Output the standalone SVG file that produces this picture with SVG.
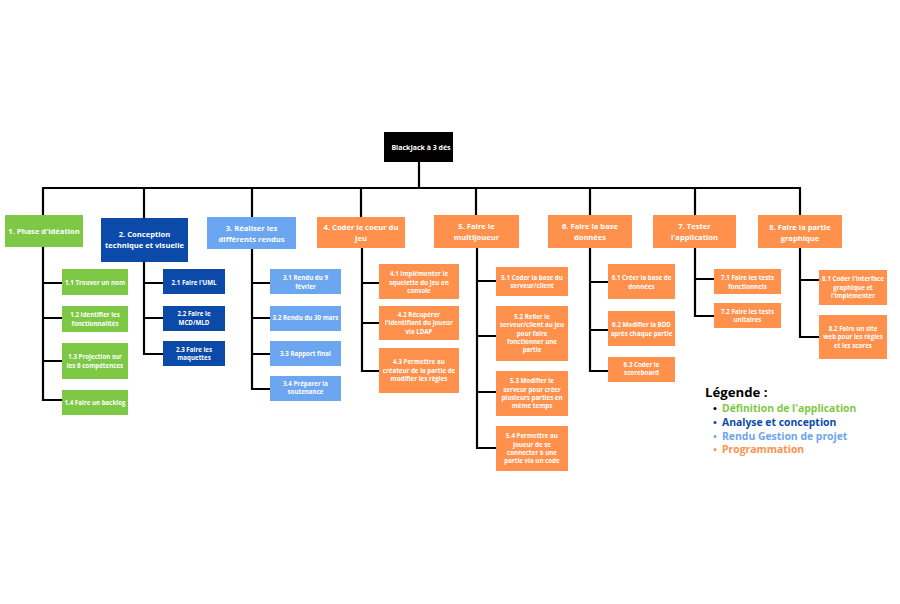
<svg xmlns="http://www.w3.org/2000/svg" width="900" height="604" viewBox="0 0 900 604">
<style>
.bg{fill:#ffffff}
.ln{stroke:#000;stroke-width:2.2;fill:none;stroke-linecap:square}
.g{fill:#7DC845}.db{fill:#0B4AA8}.lb{fill:#6CA6F0}.o{fill:#FF914D}.k{fill:#000}
text{font-family:"Open Sans","Liberation Sans",sans-serif;font-weight:bold;fill:#fff;text-anchor:middle}
.t0{font-size:7px}
.t1{font-size:7.6px}
.t2{font-size:6.2px}
.lg{text-anchor:start;font-size:10.4px}
</style>
<rect class="bg" width="900" height="604"/>
<g id="connectors">
<path class="ln" d="M419 162V188M43 188H800M43 188V215M144 188V218M252 188V217M361 188V217M476 188V215M590 188V215M695 188V215M800 188V215"/>
<path class="ln" d="M43 247V400M43 283H62M43 318H62M43 361H62M43 400H62"/>
<path class="ln" d="M144 262V354M144 283H163M144 318H163M144 354H163"/>
<path class="ln" d="M252 249V389M252 283H270M252 318H270M252 354H270M252 389H270"/>
<path class="ln" d="M362 248V371M362 283H379M362 323H379M362 371H379"/>
<path class="ln" d="M477 248V448M477 281H496M477 336H496M477 392H496M477 448H496"/>
<path class="ln" d="M590 248V371M590 282H608M590 330H608M590 371H608"/>
<path class="ln" d="M695 248V316M695 279H714M695 316H714"/>
<path class="ln" d="M800 248V337M800 280H819M800 337H819"/>
</g>
<g id="root"><rect class="k" x="384" y="132" width="69" height="30"/><text class="t0" x="421" y="149.5">BlackJack à 3 dés</text></g>
<g id="n1"><rect class="g" x="5" y="215" width="78" height="32"/><text class="t1" x="44" y="233.5">1. Phase d'idéation</text></g>
<g id="n2"><rect class="db" x="101" y="218" width="87" height="44"/><text class="t1" x="144.5" y="237">2. Conception</text><text class="t1" x="144.5" y="248">technique et visuelle</text></g>
<g id="n3"><rect class="lb" x="207" y="217" width="89" height="32"/><text class="t1" x="251.5" y="230.5">3. Réaliser les</text><text class="t1" x="251.5" y="241.5">différents rendus</text></g>
<g id="n4"><rect class="o" x="317" y="217" width="88" height="31"/><text class="t1" x="361" y="229.5">4. Coder le coeur du</text><text class="t1" x="361" y="240.5">jeu</text></g>
<g id="n5"><rect class="o" x="434" y="215" width="85" height="33"/><text class="t1" x="476.5" y="228.5">5. Faire le</text><text class="t1" x="476.5" y="239.5">multijoueur</text></g>
<g id="n6"><rect class="o" x="548" y="215" width="84" height="33"/><text class="t1" x="590" y="228.5">6. Faire la base</text><text class="t1" x="590" y="239.5">données</text></g>
<g id="n7"><rect class="o" x="653" y="215" width="83" height="33"/><text class="t1" x="694.5" y="228.5">7. Tester</text><text class="t1" x="694.5" y="239.5">l'application</text></g>
<g id="n8"><rect class="o" x="758" y="215" width="84" height="33"/><text class="t1" x="800" y="229.5">8. Faire la partie</text><text class="t1" x="800" y="240.5">graphique</text></g>
<g id="n1_1"><rect class="g" x="62" y="269" width="66" height="26"/><text class="t2" x="95" y="285">1.1 Trouver un nom</text></g>
<g id="n1_2"><rect class="g" x="62" y="306" width="66" height="26"/><text class="t2" x="95" y="317">1.2 Identifier les</text><text class="t2" x="95" y="326">fonctionnalités</text></g>
<g id="n1_3"><rect class="g" x="62" y="343" width="66" height="36"/><text class="t2" x="95" y="359">1.3 Projection sur</text><text class="t2" x="95" y="368">les 6 compétences</text></g>
<g id="n1_4"><rect class="g" x="62" y="390" width="66" height="25"/><text class="t2" x="95" y="405">1.4 Faire un backlog</text></g>
<g id="n2_1"><rect class="db" x="163" y="269" width="62" height="25"/><text class="t2" x="194" y="285">2.1 Faire l'UML</text></g>
<g id="n2_2"><rect class="db" x="163" y="306" width="62" height="25"/><text class="t2" x="194" y="316">2.2 Faire le</text><text class="t2" x="194" y="325">MCD/MLD</text></g>
<g id="n2_3"><rect class="db" x="163" y="341" width="62" height="25"/><text class="t2" x="194" y="352">2.3 Faire les</text><text class="t2" x="194" y="360">maquettes</text></g>
<g id="n3_1"><rect class="lb" x="270" y="269" width="71" height="25"/><text class="t2" x="305.5" y="280">3.1 Rendu du 9</text><text class="t2" x="305.5" y="289">février</text></g>
<g id="n3_2"><rect class="lb" x="270" y="306" width="71" height="25"/><text class="t2" x="305.5" y="320">3.2 Rendu du 30 mars</text></g>
<g id="n3_3"><rect class="lb" x="270" y="341" width="71" height="25"/><text class="t2" x="305.5" y="356">3.3 Rapport final</text></g>
<g id="n3_4"><rect class="lb" x="270" y="376" width="71" height="25"/><text class="t2" x="305.5" y="386">3.4 Préparer la</text><text class="t2" x="305.5" y="394">soutenance</text></g>
<g id="n4_1"><rect class="o" x="379" y="264" width="80" height="35"/><text class="t2" x="419" y="276">4.1 Implémenter le</text><text class="t2" x="419" y="284.5">squelette du jeu en</text><text class="t2" x="419" y="293">console</text></g>
<g id="n4_2"><rect class="o" x="379" y="306" width="80" height="34"/><text class="t2" x="419" y="317">4.2 Récupérer</text><text class="t2" x="419" y="325">l'identifiant du joueur</text><text class="t2" x="419" y="334">via LDAP</text></g>
<g id="n4_3"><rect class="o" x="379" y="348" width="80" height="45"/><text class="t2" x="419" y="364">4.3 Permettre au</text><text class="t2" x="419" y="373">créateur de la partie de</text><text class="t2" x="419" y="381">modifier les règles</text></g>
<g id="n5_1"><rect class="o" x="496" y="267" width="72" height="29"/><text class="t2" x="532" y="280">5.1 Coder la base du</text><text class="t2" x="532" y="288">serveur/client</text></g>
<g id="n5_2"><rect class="o" x="496" y="306" width="72" height="55"/><text class="t2" x="532" y="319">5.2 Relier le</text><text class="t2" x="532" y="327">serveur/client au jeu</text><text class="t2" x="532" y="335.5">pour faire</text><text class="t2" x="532" y="344">fonctionner une</text><text class="t2" x="532" y="352">partie</text></g>
<g id="n5_3"><rect class="o" x="496" y="371" width="72" height="45"/><text class="t2" x="532" y="383">5.3 Modifier le</text><text class="t2" x="532" y="391.5">serveur pour créer</text><text class="t2" x="532" y="400">plusieurs parties en</text><text class="t2" x="532" y="408">même temps</text></g>
<g id="n5_4"><rect class="o" x="496" y="426" width="72" height="45"/><text class="t2" x="532" y="438">5.4 Permettre au</text><text class="t2" x="532" y="447">joueur de se</text><text class="t2" x="532" y="455">connecter à une</text><text class="t2" x="532" y="463">partie via un code</text></g>
<g id="n6_1"><rect class="o" x="608" y="264" width="67" height="35"/><text class="t2" x="641.5" y="280">6.1 Créer la base de</text><text class="t2" x="641.5" y="289">données</text></g>
<g id="n6_2"><rect class="o" x="608" y="311" width="67" height="35"/><text class="t2" x="641.5" y="327">6.2 Modifier la BDD</text><text class="t2" x="641.5" y="336">après chaque partie</text></g>
<g id="n6_3"><rect class="o" x="608" y="357" width="67" height="25"/><text class="t2" x="641.5" y="367">6.3 Coder le</text><text class="t2" x="641.5" y="375">scoreboard</text></g>
<g id="n7_1"><rect class="o" x="714" y="269" width="67" height="25"/><text class="t2" x="747.5" y="280">7.1 Faire les tests</text><text class="t2" x="747.5" y="289">fonctionnels</text></g>
<g id="n7_2"><rect class="o" x="714" y="303" width="67" height="25"/><text class="t2" x="747.5" y="314">7.2 Faire les tests</text><text class="t2" x="747.5" y="322">unitaires</text></g>
<g id="n8_1"><rect class="o" x="819" y="270" width="68" height="35"/><text class="t2" x="853" y="281">8.1 Coder l'interface</text><text class="t2" x="853" y="290">graphique et</text><text class="t2" x="853" y="298">l'implémenter</text></g>
<g id="n8_2"><rect class="o" x="819" y="315" width="68" height="44"/><text class="t2" x="853" y="331">8.2 Faire un site</text><text class="t2" x="853" y="339">web pour les règles</text><text class="t2" x="853" y="348">et les scores</text></g>
<g id="legend">
<text class="lg" x="705" y="397" style="font-size:13.2px;fill:#000">Légende :</text>
<circle cx="715" cy="408.5" r="1.5" fill="#000"/><circle cx="715" cy="422.5" r="1.5" fill="#0B4AA8"/><circle cx="715" cy="436.5" r="1.5" fill="#6CA6F0"/><circle cx="715" cy="449.5" r="1.5" fill="#FF914D"/>
<text class="lg" x="722" y="412" style="fill:#7DC845">Définition de l'application</text>
<text class="lg" x="722" y="426" style="fill:#0B4AA8">Analyse et conception</text>
<text class="lg" x="722" y="440" style="fill:#6CA6F0">Rendu Gestion de projet</text>
<text class="lg" x="722" y="453" style="fill:#FF914D">Programmation</text>
</g>
</svg>
